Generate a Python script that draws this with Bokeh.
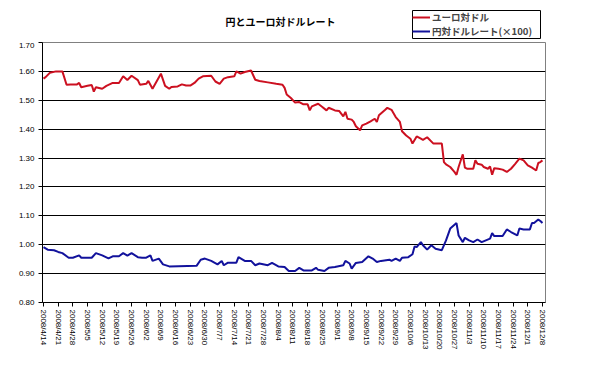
import pandas as pd
from bokeh.plotting import figure
from bokeh.layouts import column, row
from bokeh.models import FixedTicker, Label, Legend, LegendItem, Range1d, AllLabels, BoxAnnotation
from bokeh.embed import file_html
from bokeh.resources import INLINE

title_text = "円とユーロ対ドルレート"
eur_label = "ユーロ対ドル"
jpy_label = "円対ドルレート(×100)"

eur_dates = ["2008-04-14", "2008-04-15", "2008-04-17", "2008-04-20", "2008-04-23", "2008-04-25", "2008-04-27",
             "2008-04-30", "2008-05-01", "2008-05-02", "2008-05-05", "2008-05-07", "2008-05-08", "2008-05-09",
             "2008-05-12", "2008-05-14", "2008-05-17", "2008-05-20", "2008-05-22", "2008-05-24", "2008-05-26",
             "2008-05-29", "2008-05-30", "2008-06-02", "2008-06-03", "2008-06-05", "2008-06-09", "2008-06-11",
             "2008-06-13", "2008-06-14", "2008-06-17", "2008-06-19", "2008-06-21", "2008-06-23", "2008-06-25",
             "2008-06-27", "2008-06-29", "2008-07-03", "2008-07-05", "2008-07-07", "2008-07-09", "2008-07-11",
             "2008-07-14", "2008-07-15", "2008-07-17", "2008-07-19", "2008-07-22", "2008-07-24", "2008-07-26",
             "2008-07-30", "2008-08-03", "2008-08-06", "2008-08-07", "2008-08-08", "2008-08-10", "2008-08-12",
             "2008-08-14", "2008-08-16", "2008-08-18", "2008-08-19", "2008-08-20", "2008-08-23", "2008-08-25",
             "2008-08-27", "2008-08-28", "2008-08-31", "2008-09-02", "2008-09-04", "2008-09-05", "2008-09-06",
             "2008-09-08", "2008-09-09", "2008-09-10", "2008-09-12", "2008-09-13", "2008-09-15", "2008-09-17",
             "2008-09-19", "2008-09-20", "2008-09-21", "2008-09-24", "2008-09-25", "2008-09-27", "2008-09-29",
             "2008-10-01", "2008-10-02", "2008-10-04", "2008-10-06", "2008-10-07", "2008-10-09", "2008-10-11",
             "2008-10-12", "2008-10-14", "2008-10-17", "2008-10-19", "2008-10-21", "2008-10-22", "2008-10-23",
             "2008-10-25", "2008-10-27", "2008-10-28", "2008-10-29", "2008-10-31", "2008-11-01", "2008-11-02",
             "2008-11-05", "2008-11-06", "2008-11-07", "2008-11-09", "2008-11-10", "2008-11-12", "2008-11-13",
             "2008-11-14", "2008-11-15", "2008-11-17", "2008-11-19", "2008-11-21", "2008-11-23", "2008-11-25",
             "2008-11-27", "2008-11-29", "2008-12-01", "2008-12-03", "2008-12-05", "2008-12-06", "2008-12-07",
             "2008-12-08"]
eur_values = [1.575, 1.58, 1.595, 1.60, 1.60, 1.554, 1.555,
              1.555, 1.56, 1.545, 1.55, 1.553, 1.53, 1.545,
              1.54, 1.55, 1.56, 1.56, 1.583, 1.57, 1.585,
              1.57, 1.554, 1.557, 1.567, 1.54, 1.592, 1.55,
              1.54, 1.546, 1.548, 1.555, 1.551, 1.551, 1.56,
              1.575, 1.583, 1.585, 1.565, 1.557, 1.575, 1.58,
              1.583, 1.60, 1.592, 1.598, 1.603, 1.571, 1.567,
              1.562, 1.557, 1.554, 1.543, 1.52, 1.508, 1.492,
              1.494, 1.486, 1.486, 1.465, 1.479, 1.488, 1.477,
              1.465, 1.474, 1.465, 1.463, 1.444, 1.46, 1.436,
              1.433, 1.425, 1.41, 1.396, 1.413, 1.419, 1.427,
              1.436, 1.425, 1.448, 1.467, 1.474, 1.467, 1.442,
              1.425, 1.393, 1.378, 1.367, 1.35, 1.375, 1.367,
              1.363, 1.372, 1.35, 1.35, 1.35, 1.286, 1.278,
              1.269, 1.252, 1.242, 1.269, 1.313, 1.267, 1.263,
              1.263, 1.292, 1.28, 1.277, 1.269, 1.263, 1.271,
              1.242, 1.265, 1.263, 1.26, 1.252, 1.263, 1.28,
              1.298, 1.292, 1.275, 1.267, 1.257, 1.283, 1.286,
              1.292]

jpy_dates = ["2008-04-14", "2008-04-16", "2008-04-19", "2008-04-21", "2008-04-23", "2008-04-26", "2008-04-28",
             "2008-05-01", "2008-05-02", "2008-05-07", "2008-05-09", "2008-05-12", "2008-05-15", "2008-05-17",
             "2008-05-20", "2008-05-22", "2008-05-24", "2008-05-26", "2008-05-29", "2008-05-31", "2008-06-02",
             "2008-06-04", "2008-06-05", "2008-06-08", "2008-06-10", "2008-06-13", "2008-06-26", "2008-06-28",
             "2008-06-30", "2008-07-03", "2008-07-06", "2008-07-08", "2008-07-09", "2008-07-11", "2008-07-15",
             "2008-07-16", "2008-07-19", "2008-07-22", "2008-07-24", "2008-07-26", "2008-07-30", "2008-08-01",
             "2008-08-04", "2008-08-07", "2008-08-09", "2008-08-12", "2008-08-14", "2008-08-16", "2008-08-20",
             "2008-08-22", "2008-08-23", "2008-08-26", "2008-08-28", "2008-08-31", "2008-09-04", "2008-09-05",
             "2008-09-07", "2008-09-08", "2008-09-10", "2008-09-13", "2008-09-16", "2008-09-18", "2008-09-20",
             "2008-09-22", "2008-09-26", "2008-09-27", "2008-09-29", "2008-10-01", "2008-10-02", "2008-10-05",
             "2008-10-07", "2008-10-08", "2008-10-09", "2008-10-11", "2008-10-12", "2008-10-14", "2008-10-16",
             "2008-10-18", "2008-10-21", "2008-10-23", "2008-10-25", "2008-10-28", "2008-10-29", "2008-10-31",
             "2008-11-01", "2008-11-03", "2008-11-05", "2008-11-07", "2008-11-09", "2008-11-11", "2008-11-13",
             "2008-11-14", "2008-11-15", "2008-11-19", "2008-11-21", "2008-11-23", "2008-11-26", "2008-11-27",
             "2008-11-29", "2008-12-02", "2008-12-03", "2008-12-04", "2008-12-06", "2008-12-07", "2008-12-08"]
jpy_values = [0.992, 0.983, 0.981, 0.975, 0.971, 0.955, 0.955,
              0.963, 0.955, 0.955, 0.971, 0.963, 0.953, 0.96,
              0.96, 0.971, 0.962, 0.971, 0.957, 0.955, 0.955,
              0.963, 0.944, 0.952, 0.932, 0.925, 0.927, 0.948,
              0.952, 0.944, 0.932, 0.944, 0.929, 0.938, 0.938,
              0.957, 0.944, 0.944, 0.929, 0.935, 0.929, 0.937,
              0.925, 0.923, 0.909, 0.909, 0.92, 0.911, 0.911,
              0.92, 0.913, 0.909, 0.92, 0.923, 0.929, 0.944,
              0.935, 0.917, 0.937, 0.94, 0.96, 0.952, 0.94,
              0.944, 0.948, 0.944, 0.952, 0.944, 0.955, 0.957,
              0.967, 0.994, 0.992, 1.009, 0.998, 0.983, 0.998,
              0.986, 0.981, 1.015, 1.056, 1.075, 1.032, 1.009,
              1.024, 1.015, 1.009, 1.018, 1.009, 1.015, 1.021,
              1.04, 1.03, 1.03, 1.053, 1.044, 1.032, 1.056,
              1.053, 1.053, 1.075, 1.075, 1.087, 1.082, 1.075]

tick_labels = ["2008/4/14", "2008/4/21", "2008/4/28", "2008/5/5", "2008/5/12", "2008/5/19", "2008/5/26",
               "2008/6/2", "2008/6/9", "2008/6/16", "2008/6/23", "2008/6/30", "2008/7/7", "2008/7/14",
               "2008/7/21", "2008/7/28", "2008/8/4", "2008/8/11", "2008/8/18", "2008/8/25", "2008/9/1",
               "2008/9/8", "2008/9/15", "2008/9/22", "2008/9/29", "2008/10/6", "2008/10/13", "2008/10/20",
               "2008/10/27", "2008/11/3", "2008/11/10", "2008/11/17", "2008/11/24", "2008/12/1", "2008/12/8"]
y_ticks = [0.80, 0.90, 1.00, 1.10, 1.20, 1.30, 1.40, 1.50, 1.60, 1.70]

RED = "#CC1020"
BLUE = "#12129C"
LABEL_FONT = "Liberation Sans"
JP_FONT = "Noto Sans CJK JP"

W = 582
TOP_H = 42
TITLE_W = 402
LEG_W = W - TITLE_W
DAY = 86400000
tick_ms = [int(pd.Timestamp(pd.to_datetime(t, format="%Y/%m/%d")).value // 10**6) for t in tick_labels]
x0 = tick_ms[0] - 0.48 * DAY
x1 = tick_ms[-1] + 1.45 * DAY


def blank(width):
    f = figure(width=width, height=TOP_H, output_backend="svg", toolbar_location=None,
               x_range=Range1d(0, width), y_range=Range1d(0, TOP_H),
               x_axis_location=None, y_axis_location=None,
               min_border=0, min_border_left=0, min_border_right=0,
               min_border_top=0, min_border_bottom=0)
    f.outline_line_color = None
    f.xgrid.grid_line_color = None
    f.ygrid.grid_line_color = None
    f.background_fill_color = "white"
    f.border_fill_color = "white"
    return f


# ---- title strip ----
tfig = blank(TITLE_W)
tfig.add_layout(Label(x=280, y=TOP_H - 21, text=title_text, text_font=JP_FONT, text_font_size="10px",
                      text_font_style="bold", text_align="center", text_baseline="middle",
                      text_color="black"))

# ---- legend strip ----
lfig = blank(LEG_W)
# legend proxies: the same series, far outside this strip's visible range
d1 = lfig.line(pd.to_datetime(eur_dates), eur_values, line_color=RED, line_width=2)
d2 = lfig.line(pd.to_datetime(jpy_dates), jpy_values, line_color=BLUE, line_width=2)
legend = Legend(items=[LegendItem(label=eur_label, renderers=[d1]),
                       LegendItem(label=jpy_label, renderers=[d2])],
                location="top_left")
legend.border_line_color = None
legend.background_fill_alpha = 0
legend.label_text_font = JP_FONT
legend.label_text_font_size = "9.5px"
legend.label_text_font_style = "bold"
legend.label_height = 12
legend.glyph_height = 12
legend.glyph_width = 18
legend.label_standoff = 2
legend.spacing = 0
legend.padding = 2
legend.margin = 10
lfig.add_layout(legend)
lfig.add_layout(BoxAnnotation(left=10, right=138, bottom=4, top=32, fill_color=None,
                              line_color="black", line_width=1, line_alpha=1))

# ---- main chart ----
p = figure(width=W, height=317, x_axis_type="datetime",
           output_backend="svg", toolbar_location=None,
           x_range=Range1d(x0, x1), y_range=Range1d(0.80, 1.70),
           min_border_left=42, min_border_right=37, min_border_top=0, min_border_bottom=57)
p.background_fill_color = "white"
p.border_fill_color = "white"
p.outline_line_color = "#808080"
p.outline_line_width = 1

p.line(pd.to_datetime(eur_dates), eur_values, line_color=RED, line_width=2)
p.line(pd.to_datetime(jpy_dates), jpy_values, line_color=BLUE, line_width=2)

p.xaxis.ticker = FixedTicker(ticks=tick_ms)
p.xaxis.major_label_overrides = {ms: lab for ms, lab in zip(tick_ms, tick_labels)}
p.xaxis.major_label_policy = AllLabels()
p.xaxis.major_label_orientation = "vertical"
p.xaxis.major_label_text_font = LABEL_FONT
p.xaxis.major_label_text_font_size = "8px"
p.xaxis.major_label_text_color = "black"
p.xaxis.axis_line_color = "black"
p.xaxis.major_tick_line_color = "black"
p.xaxis.major_tick_out = 4
p.xaxis.major_tick_in = 0
p.xaxis.minor_tick_line_color = None
p.xaxis.major_label_standoff = 3

p.yaxis.ticker = FixedTicker(ticks=y_ticks)
p.yaxis.major_label_overrides = {v: f"{v:.2f}" for v in y_ticks}
p.yaxis.major_label_text_font = LABEL_FONT
p.yaxis.major_label_text_font_size = "8px"
p.yaxis.major_label_text_color = "black"
p.yaxis.axis_line_color = "black"
p.yaxis.major_tick_line_color = "black"
p.yaxis.major_tick_out = 4
p.yaxis.major_tick_in = 0
p.yaxis.minor_tick_line_color = None
p.yaxis.major_label_standoff = 4

p.xgrid.grid_line_color = None
p.ygrid.grid_line_color = "black"
p.ygrid.grid_line_width = 1

layout = column(row(tfig, lfig, spacing=0), p, spacing=0)
open("out.html", "w").write(file_html(layout, INLINE))
